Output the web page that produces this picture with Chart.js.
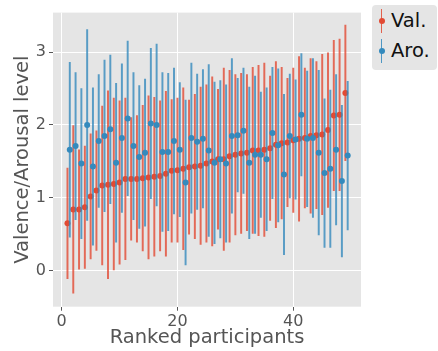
<!DOCTYPE html>
<html>
<head>
<meta charset="utf-8">
<script src="https://cdn.jsdelivr.net/npm/chart.js@4.4.0/dist/chart.umd.min.js"></script>
<style>
    body { margin: 0; background: #fff; }
    #wrap { position: relative; width: 438px; height: 351px; font-family: "DejaVu Sans", sans-serif; }
    .legend { position: absolute; left: 372px; top: 5px; width: 65px; height: 65px; background: #e5e5e5; border-radius: 4px; }
    .item { position: absolute; left: 0; width: 65px; height: 24px; }
    .bar { position: absolute; left: 9px; top: 0; width: 1.4px; height: 24px; opacity: 0.85; }
    .dot { position: absolute; left: 6.7px; top: 9px; width: 6px; height: 6px; border-radius: 50%; }
    .txt { position: absolute; left: 19px; top: 0; line-height: 24px; font-size: 19.5px; color: #111; }
</style>
</head>
<body>
<div id="wrap">
    <canvas id="valenceArousalChart" width="438" height="351"></canvas>
    <div class="legend">
        <div class="item" style="top:3.5px">
            <div class="bar" style="background:#E24A33"></div>
            <div class="dot" style="background:#E24A33"></div>
            <div class="txt">Val.</div>
        </div>
        <div class="item" style="top:33.5px">
            <div class="bar" style="background:#348ABD"></div>
            <div class="dot" style="background:#348ABD"></div>
            <div class="txt">Aro.</div>
        </div>
    </div>
</div>
<script>
    const participants = [1, 2, 3, 4, 5, 6, 7, 8, 9, 10, 11, 12, 13, 14, 15, 16, 17, 18, 19, 20,
        21, 22, 23, 24, 25, 26, 27, 28, 29, 30, 31, 32, 33, 34, 35, 36, 37, 38, 39, 40,
        41, 42, 43, 44, 45, 46, 47, 48, 49];

    const valence = [0.65, 0.84, 0.84, 0.87, 1.02, 1.10, 1.17, 1.18, 1.19, 1.21,
        1.26, 1.26, 1.26, 1.27, 1.28, 1.29, 1.30, 1.33, 1.37, 1.38,
        1.40, 1.42, 1.43, 1.44, 1.47, 1.50, 1.53, 1.53, 1.57, 1.59,
        1.61, 1.62, 1.65, 1.65, 1.66, 1.68, 1.73, 1.75, 1.76, 1.79,
        1.81, 1.82, 1.85, 1.86, 1.87, 1.93, 2.13, 2.14, 2.44];
    const valenceErr = [0.76, 1.15, 0.82, 0.84, 0.86, 0.82, 1.09, 1.29, 1.18, 1.12,
        1.11, 0.84, 0.87, 1.00, 1.12, 1.09, 1.03, 1.13, 0.98, 0.99,
        1.11, 0.92, 0.99, 1.08, 1.08, 1.16, 0.96, 1.25, 1.18, 1.10,
        1.10, 1.07, 1.14, 1.17, 1.19, 0.99, 1.14, 1.04, 0.88, 0.99,
        1.13, 0.96, 1.06, 1.01, 1.10, 1.06, 1.03, 1.04, 0.93];

    const arousal = [1.66, 1.71, 1.47, 2.00, 1.43, 1.78, 1.85, 1.94, 1.48, 1.82,
        2.09, 1.71, 1.56, 1.62, 2.02, 2.00, 1.63, 1.63, 1.78, 1.66,
        1.21, 1.82, 1.77, 1.81, 1.65, 1.48, 1.53, 1.47, 1.85, 1.86,
        1.92, 1.48, 1.59, 1.59, 1.53, 1.89, 1.72, 1.32, 1.85, 1.80,
        2.14, 1.81, 1.82, 1.62, 1.34, 1.40, 1.66, 1.23, 1.58];
    const arousalErr = [1.20, 1.01, 1.03, 1.31, 1.08, 0.91, 1.04, 1.02, 1.09, 1.02,
        1.06, 1.01, 0.98, 1.01, 1.03, 1.11, 1.09, 1.08, 1.00, 0.92,
        1.13, 1.03, 0.93, 0.95, 1.18, 1.11, 1.08, 1.08, 1.06, 0.78,
        0.86, 1.04, 1.08, 0.86, 0.98, 0.90, 1.05, 1.10, 0.85, 0.82,
        0.84, 0.93, 1.09, 1.13, 1.02, 1.08, 1.03, 1.04, 1.02];

    const xTicks = [0, 20, 40];
    const yTicks = [0, 1, 2, 3];

    // arousal markers sit a little to the right of valence ones
    const arousalShift = 0.4;

    const RED = '#E24A33';
    const BLUE = '#348ABD';
    const FONT = '"DejaVu Sans", sans-serif';

    function errorRows(xs, means, errs, shift) {
        return xs.map((x, i) => ({x: x + shift, y: [means[i] - errs[i], means[i] + errs[i]]}));
    }

    function pointRows(xs, means, shift) {
        return xs.map((x, i) => ({x: x + shift, y: means[i]}));
    }

    const panelBackground = {
        id: 'panelBackground',
        beforeDraw(chart) {
            const {ctx, chartArea} = chart;
            ctx.save();
            ctx.fillStyle = '#E5E5E5';
            ctx.fillRect(chartArea.left, chartArea.top, chartArea.width, chartArea.height);
            ctx.restore();
        }
    };

    let ctx = document.getElementById('valenceArousalChart');
    new Chart(ctx, {
        type: 'bar',
        data: {
            datasets: [
                {
                    type: 'bar',
                    label: 'Val.',
                    data: errorRows(participants, valence, valenceErr, 0),
                    backgroundColor: 'rgba(226, 74, 51, 0.8)',
                    barThickness: 1.3,
                    grouped: false,
                    order: 4
                },
                {
                    type: 'line',
                    label: 'Val.',
                    data: pointRows(participants, valence, 0),
                    showLine: false,
                    pointRadius: 3,
                    pointBorderWidth: 0,
                    pointBackgroundColor: RED,
                    order: 3
                },
                {
                    type: 'bar',
                    label: 'Aro.',
                    data: errorRows(participants, arousal, arousalErr, arousalShift),
                    backgroundColor: 'rgba(52, 138, 189, 0.8)',
                    barThickness: 1.3,
                    grouped: false,
                    order: 2
                },
                {
                    type: 'line',
                    label: 'Aro.',
                    data: pointRows(participants, arousal, arousalShift),
                    showLine: false,
                    pointRadius: 3,
                    pointBorderWidth: 0,
                    pointBackgroundColor: BLUE,
                    order: 1 //drawn on top
                }
            ]
        },
        options: {
            responsive: false,
            devicePixelRatio: 1,
            animation: false,
            layout: {
                padding: {top: 6.7, right: 77, left: 0, bottom: 0}
            },
            scales: {
                x: {
                    type: 'linear',
                    min: -1.5,
                    max: 51.7,
                    offset: false,
                    grid: {
                        color: '#ffffff',
                        lineWidth: 1,
                        offset: false,
                        tickLength: 4,
                        tickColor: '#555555'
                    },
                    border: {display: false},
                    ticks: {
                        color: '#555555',
                        font: {family: FONT, size: 16},
                        padding: 2
                    },
                    title: {
                        display: true,
                        text: 'Ranked participants',
                        color: '#555555',
                        font: {family: FONT, size: 19.5},
                        padding: {top: 0, bottom: 1}
                    },
                    afterBuildTicks: scale => {
                        scale.ticks = xTicks.map(v => ({value: v}));
                    },
                    afterFit: scale => {
                        scale.height = 44.3;
                    }
                },
                y: {
                    type: 'linear',
                    min: -0.494,
                    max: 3.542,
                    grid: {
                        color: '#ffffff',
                        lineWidth: 1,
                        tickLength: 4,
                        tickColor: '#555555'
                    },
                    border: {display: false},
                    ticks: {
                        color: '#555555',
                        font: {family: FONT, size: 16},
                        padding: 3
                    },
                    title: {
                        display: true,
                        text: 'Valence/Arousal level',
                        color: '#555555',
                        font: {family: FONT, size: 19.5},
                        padding: {top: 11, bottom: 0}
                    },
                    afterBuildTicks: scale => {
                        scale.ticks = yTicks.map(v => ({value: v}));
                    },
                    afterFit: scale => {
                        scale.width = 53;
                    }
                }
            },
            plugins: {
                legend: {display: false},
                tooltip: {enabled: false}
            }
        },
        plugins: [panelBackground]
    });
</script>
</body>
</html>
